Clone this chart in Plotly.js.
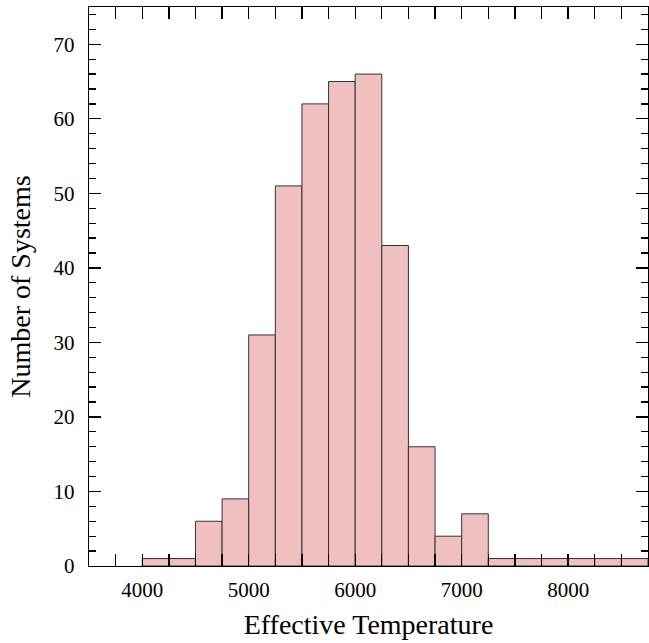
<!DOCTYPE html>
<html>
<head>
<meta charset="utf-8">
<script src="https://cdn.plot.ly/plotly-3.0.1.min.js"></script>
<style>html,body{margin:0;padding:0;background:#fff;}#chart{width:649px;height:643px;}</style>
</head>
<body>
<div id="chart"></div>
<script>
const binStarts = [4000, 4250, 4500, 4750, 5000, 5250, 5500, 5750, 6000, 6250, 6500, 6750, 7000, 7250, 7500, 7750, 8000, 8250, 8500];
const counts    = [1, 1, 6, 9, 31, 51, 62, 65, 66, 43, 16, 4, 7, 1, 1, 1, 1, 1, 1];
const binWidth = 250;
const xTickVals = [4000, 5000, 6000, 7000, 8000];
const yTickVals = [0, 10, 20, 30, 40, 50, 60, 70];

const font = {family: 'Liberation Serif, Times New Roman, serif', color: '#000'};

Plotly.newPlot('chart', [{
  type: 'bar',
  x: binStarts,
  y: counts,
  width: binWidth,
  offset: 0,
  marker: {color: '#f0c0c1', line: {color: '#333333', width: 1}},
  hoverinfo: 'x+y'
}], {
  width: 649, height: 643,
  margin: {l: 89, r: 1, t: 7, b: 77},
  paper_bgcolor: '#fff', plot_bgcolor: '#fff',
  showlegend: false,
  bargap: 0,
  font: Object.assign({size: 21}, font),
  xaxis: {
    range: [3500, 8750],
    tickvals: xTickVals,
    ticktext: xTickVals.map(String),
    ticks: 'inside', ticklen: 12, tickwidth: 1.3, tickcolor: '#000',
    minor: {dtick: 250, tick0: 0, ticks: 'inside', ticklen: 12, tickwidth: 1.3, tickcolor: '#000', showgrid: false},
    showline: true, linecolor: '#000', linewidth: 1.3, mirror: 'allticks',
    showgrid: false, zeroline: false,
    ticklabelstandoff: 4,
    tickfont: Object.assign({size: 21}, font),
    title: {text: 'Effective Temperature', font: Object.assign({size: 28}, font), standoff: 14}
  },
  yaxis: {
    range: [0, 75],
    tickvals: yTickVals,
    ticks: 'inside', ticklen: 12, tickwidth: 1.3, tickcolor: '#000',
    minor: {dtick: 2, tick0: 0, ticks: 'inside', ticklen: 7, tickwidth: 1.3, tickcolor: '#000', showgrid: false},
    showline: true, linecolor: '#000', linewidth: 1.3, mirror: 'allticks',
    showgrid: false, zeroline: false,
    ticklabelstandoff: 9,
    tickfont: Object.assign({size: 21}, font),
    title: {text: 'Number of Systems', font: Object.assign({size: 28}, font), standoff: 14}
  }
}, {displayModeBar: false, staticPlot: true});
</script>
</body>
</html>
